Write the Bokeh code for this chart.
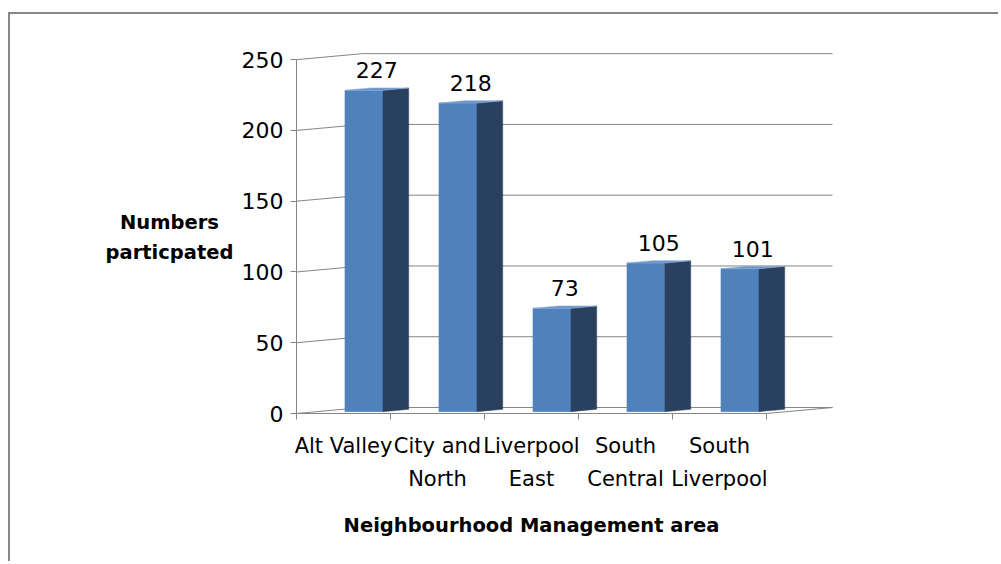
from bokeh.plotting import figure
from bokeh.models import Range1d, FixedTicker, LinearAxis, ColumnDataSource
from bokeh.embed import file_html
from bokeh.resources import INLINE
from bokeh.core.properties import value

# ---- data ----
categories = ["Alt Valley", "City and North", "Liverpool East", "South Central", "South Liverpool"]
label_line1 = ["Alt Valley", "City and", "Liverpool", "South", "South"]
label_line2 = [" ", "North", "East", "Central", "Liverpool"]
participants = [227, 218, 73, 105, 101]
y_ticks = [0, 50, 100, 150, 200, 250]
y_title_lines = ["Numbers", "particpated"]
x_title = "Neighbourhood Management area"

# ---- style ----
FONT = "DejaVu Sans"
GRID = "#868686"
FRONT = "#4F81BD"
SIDE = "#29405F"
TOP = "#6A93C8"

W, H = 990, 549
ML, MR, MT, MB = 90, 38, 31, 15
FRAME_W = W - ML - MR
FRAME_H = H - MT - MB
PX_X = 94.0                    # pixels per category
AXIS_X_PX = 196                # y axis position inside the frame
X_START = -AXIS_X_PX / PX_X
X_END = X_START + FRAME_W / PX_X
Y_END = 260
PX_Y = 368 / Y_END             # pixels per participant
Y_START = Y_END - FRAME_H / PX_Y
DX = 66 / PX_X          # depth offset of the back wall (x)
DY = 6 / PX_Y           # depth offset of the back wall (y)
F0, F1 = 0.31, 0.70     # front / back depth fraction of the bars
HW = 19 / PX_X          # half width of a bar front

n = len(participants)
centers = [i + 0.5 for i in range(n)]

p = figure(width=W, height=H, x_range=Range1d(X_START, X_END), y_range=Range1d(Y_START, Y_END),
           output_backend="svg", toolbar_location=None,
           min_border_left=ML, min_border_right=MR, min_border_top=MT, min_border_bottom=MB)
p.outline_line_color = None
p.xgrid.visible = False
p.ygrid.visible = False
p.background_fill_color = "white"
p.border_fill_color = "white"
p.styles = {"border-top": "2px solid #878787", "border-left": "2px solid #878787",
            "margin-top": "12px", "margin-left": "8px"}

# ---- back wall / floor lines ----
p.segment(x0=[0] * len(y_ticks), y0=y_ticks,
          x1=[DX] * len(y_ticks), y1=[t + DY for t in y_ticks],
          line_color=GRID, line_width=1)
p.segment(x0=[DX] * len(y_ticks), y0=[t + DY for t in y_ticks],
          x1=[n + DX] * len(y_ticks), y1=[t + DY for t in y_ticks],
          line_color=GRID, line_width=1)
p.segment(x0=[n], y0=[0], x1=[n + DX], y1=[DY], line_color=GRID, line_width=1)

# ---- bars ----
base = F0 * DY
sdx = (F1 - F0) * DX
sdy = (F1 - F0) * DY
front_xs, front_ys, side_xs, side_ys, top_xs, top_ys = [], [], [], [], [], []
for c, v in zip(centers, participants):
    xl = c + F0 * DX - HW
    xr = c + F0 * DX + HW
    yt = v + base
    front_xs.append([xl, xr, xr, xl])
    front_ys.append([base, base, yt, yt])
    side_xs.append([xr, xr + sdx, xr + sdx, xr])
    side_ys.append([base, base + sdy, yt + sdy, yt])
    top_xs.append([xl, xr, xr + sdx, xl + sdx])
    top_ys.append([yt, yt, yt + sdy, yt + sdy])

p.patches(front_xs, front_ys, fill_color=FRONT, line_color=FRONT, line_width=0.5)
p.patches(side_xs, side_ys, fill_color=SIDE, line_color=SIDE, line_width=0.5)
p.patches(top_xs, top_ys, fill_color=TOP, line_color="#8FAFD6", line_width=0.6)

# ---- value labels ----
src = ColumnDataSource(dict(
    x=[c + (F0 + F1) / 2 * DX for c in centers],
    y=[v + base for v in participants],
    t=[str(v) for v in participants]))
p.text(x="x", y="y", text="t", source=src, text_font=value(FONT), text_font_size="22px",
       text_align="center", text_baseline="bottom", y_offset=-12, text_color="black")

# ---- axis titles (horizontal text) ----
ttl = ColumnDataSource(dict(x=[-1.351, -1.351], y=[135.0, 113.8], t=y_title_lines))
p.text(x="x", y="y", text="t", source=ttl, text_font=value(FONT), text_font_size="19.5px",
       text_font_style="bold", text_align="center", text_baseline="alphabetic",
       text_color="black")
p.text(x=[n / 2], y=[-79.0], text=[x_title], text_font=value(FONT), text_font_size="19.5px",
       text_font_style="bold", text_align="center", text_baseline="alphabetic",
       text_color="black")

# ---- y axis ----
yax = p.yaxis[0]
yax.fixed_location = 0
yax.ticker = FixedTicker(ticks=y_ticks)
yax.bounds = (0, 250)
yax.axis_line_color = GRID
yax.major_tick_line_color = GRID
yax.major_tick_out = 6
yax.major_tick_in = 0
yax.minor_tick_line_color = None
yax.major_label_text_font = FONT
yax.major_label_text_font_size = "22px"
yax.major_label_text_color = "black"
yax.major_label_standoff = 7

# ---- x axis (first label line) ----
xax = p.xaxis[0]
xax.fixed_location = 0
xax.ticker = FixedTicker(ticks=centers, minor_ticks=list(range(n + 1)))
xax.bounds = (0, n)
xax.axis_line_color = GRID
xax.major_tick_out = 0
xax.major_tick_in = 0
xax.major_tick_line_color = None
xax.minor_tick_out = 6
xax.minor_tick_in = 0
xax.minor_tick_line_color = GRID
xax.major_label_overrides = {c: t for c, t in zip(centers, label_line1)}
xax.major_label_text_font = FONT
xax.major_label_text_font_size = "21px"
xax.major_label_text_color = "black"
xax.major_label_standoff = 14

# ---- x axis (second label line) ----
xax2 = LinearAxis(ticker=FixedTicker(ticks=centers, minor_ticks=list(range(n + 1))),
                  bounds=(0, n), fixed_location=0)
xax2.axis_line_color = None
xax2.major_tick_out = 0
xax2.major_tick_in = 0
xax2.minor_tick_out = 6
xax2.minor_tick_in = 0
xax2.major_tick_line_color = None
xax2.minor_tick_line_color = None
xax2.major_label_overrides = {c: t for c, t in zip(centers, label_line2)}
xax2.major_label_text_font = FONT
xax2.major_label_text_font_size = "21px"
xax2.major_label_text_color = "black"
xax2.major_label_standoff = 47
p.add_layout(xax2, "below")

open("out.html", "w").write(file_html(p, INLINE))
